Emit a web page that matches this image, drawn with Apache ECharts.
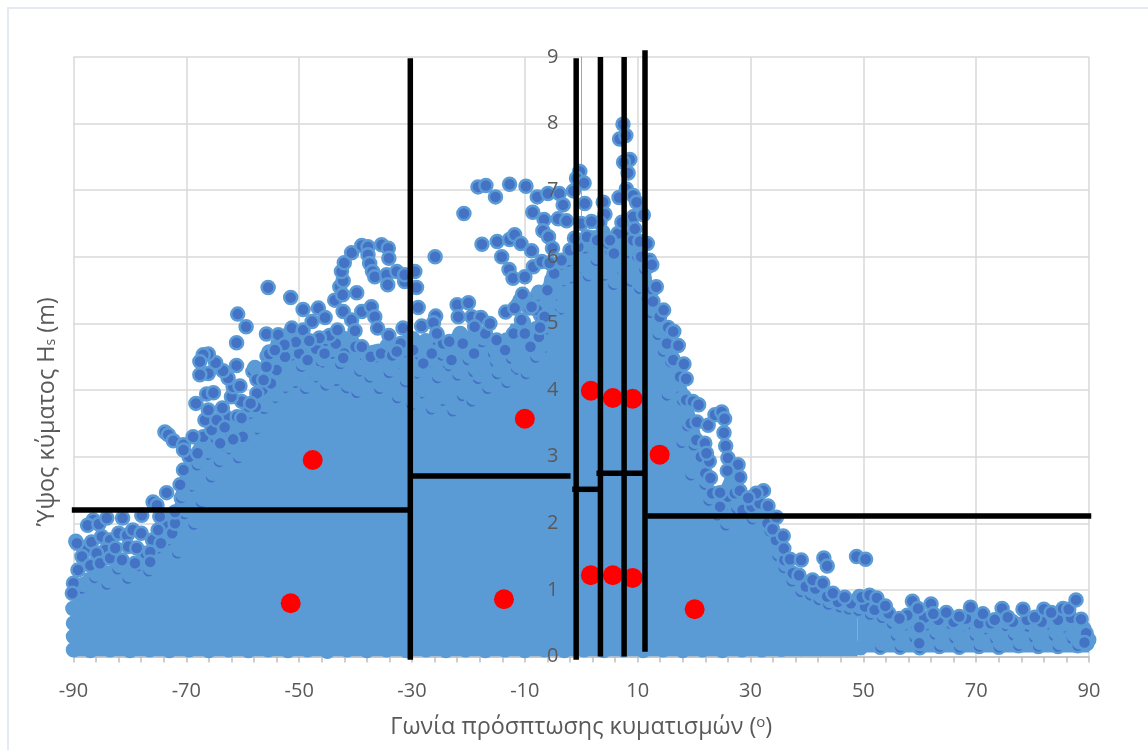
<!DOCTYPE html>
<html><head><meta charset="utf-8">
<style>html,body{margin:0;padding:0;background:#fff}#c{width:1148px;height:750px}</style>
<script src="https://cdn.jsdelivr.net/npm/echarts@6/dist/echarts.min.js"></script>
</head><body><div id="c"></div>
<script>
const xTitle = 'Γωνία πρόσπτωσης κυματισμών (';
const yTitle = 'Ύψος κύματος H';

// solid core of the overlapping cloud, upper outline (angle, Hs)
const cloudCore = [[-90,1.0],[-88,1.25],[-85,1.35],[-81,1.4],[-78,1.45],[-76,1.7],[-74,2.05],[-72,2.3],[-70.5,2.9],[-68.5,3.2],[-66,3.5],[-64,3.45],[-62,3.3],[-60.5,3.7],[-58,3.9],[-56,4.3],[-55,4.75],[-52,4.75],[-48,4.8],[-45,4.85],[-42.5,4.9],[-40,4.85],[-38.5,4.65],[-36,4.7],[-33,4.65],[-31.5,4.85],[-29,4.8],[-27,4.6],[-25.5,4.8],[-23,4.65],[-20,4.9],[-17,4.9],[-14,4.6],[-12.5,5],[-10,5.0],[-8,5.0],[-6.5,5.7],[-5,5.9],[-3,6.0],[-1,6.3],[1,6.4],[3,6.4],[5,6.1],[6.5,6.25],[8,6.4],[10,6.3],[11.5,6.1],[12.5,5.7],[13,5.3],[15,4.85],[17,4.55],[18.5,4.1],[20,3.7],[21,3.4],[22,3.1],[22.8,2.7],[24,2.45],[25,2.6],[26,2.8],[28,2.6],[29.5,2.3],[32,2.4],[33.5,2.1],[34,1.85],[35.8,1.6],[37,1.35],[38.5,1.15],[41,1.05],[43,.95],[46,.8],[49,.8]];
const cloudCoreTail = [[49,.8],[52,.75],[54,.65],[56.5,.5],[59,.6],[62,.6],[65,.55],[69,.55],[72,.5],[75,.52],[78,.55],[82,.55],[85,.6],[87,.6],[88.6,.45],[90,.25]];

// points inside the cloud near its top, where individual markers still show
const innerLeft = [[-88.6,1.02],[-86.3,1.18],[-84.1,1.08],[-82.2,1.31],[-80.4,1.17],[-78.5,1.36],[-76.7,1.28],[-75.2,1.62],[-73.4,1.74],[-71.6,1.55],[-70.3,2.14],[-68.7,1.98],[-73.1,2.02],[-70.9,2.38],[-69.2,2.55],[-67.4,2.31],[-65.6,2.69],[-68.1,2.87],[-66.3,3.03],[-64.2,2.92],[-62.7,3.11],[-60.8,2.98],[-64.8,3.27],[-62.1,3.36],[-59.5,3.29],[-57.6,3.41],[-58.9,3.64],[-56.2,3.72],[-54.4,3.88],[-56.8,3.98],[-54.9,4.17],[-52.6,4.03],[-50.7,4.11],[-48.9,4.02],[-47.2,4.19],[-45.3,4.07],[-43.4,4.14],[-41.6,4.03],[-39.8,3.96],[-53.3,4.37],[-51.4,4.52],[-49.6,4.35],[-47.8,4.58],[-46.1,4.41],[-44.2,4.55],[-42.7,4.39],[-41.1,4.62],[-39.3,4.28],[-37.5,4.19],[-35.8,4.02],[-34.1,4.26],[-36.6,4.49],[-34.7,4.61],[-32.9,4.38],[-31.2,4.12],[-32.6,3.88],[-30.1,3.78],[-28.4,3.95],[-26.6,3.71],[-24.7,3.84],[-22.8,3.68],[-21.1,3.91],[-19.4,3.83],[-29.2,4.25],[-27.3,4.41],[-25.5,4.18],[-23.6,4.36],[-21.9,4.22],[-20.1,4.45],[-18.3,4.17],[-16.6,4.02],[-14.9,4.24],[-13.2,4.11],[-11.5,4.31],[-9.8,4.24],[-8.1,4.49],[-27.9,4.68],[-25.9,4.76],[-23.8,4.61],[-21.8,4.79],[-19.7,4.68],[-17.6,4.72],[-15.6,4.55],[-13.6,4.69],[-11.8,4.62],[-9.9,4.71],[-8.4,4.86],[-6.7,4.63],[-5.3,5.02],[-3.7,5.21],[-6.2,5.28],[-7.9,5.41],[-9.3,5.23],[-11.2,5.29],[-5.1,5.55],[-3.4,5.63],[-1.8,5.68],[-58.2,4.28],[-55.7,4.51],[-52.1,4.79],[-49.3,4.66],[-45.2,4.74],[-43.1,4.68],[-38.3,4.47],[-31.6,4.56],[-30.2,4.71],[-28.6,4.52],[-24.7,4.52],[-22.6,4.49],[-19.1,4.27],[-15.2,4.41],[-12.4,4.47],[-10.6,4.96],[-7.2,5.12],[-6.4,4.91],[-4.4,5.41],[-2.3,5.93],[-3.9,5.87]];
const innerRight = [[-.3,5.82],[1.2,5.71],[2.6,5.94],[4.1,5.72],[5.7,5.58],[7.3,5.76],[8.8,5.63],[10.3,5.52],[11.6,5.38],[.6,6.13],[2.1,6.22],[3.5,6.31],[5.2,6.08],[6.9,6.14],[8.4,6.06],[9.9,6.01],[11.2,5.81],[12.3,5.16],[13.6,4.83],[14.5,4.58],[15.8,4.42],[16.7,4.03],[17.9,3.84],[15.2,3.92],[18.8,3.46],[19.9,3.17],[17.8,3.21],[20.8,2.81],[21.9,2.58],[19.4,2.72],[22.6,2.34],[24.1,2.12],[25.3,2.26],[26.7,2.51],[27.5,2.22],[29.1,2.18],[30.3,2.06],[31.9,2.17],[33.4,1.88],[25.6,1.97],[34.8,1.51],[35.9,1.33],[37.3,1.13],[38.9,.97],[40.6,.92],[42.1,.85],[43.8,.78],[45.9,.74],[47.4,.71],[49.1,.69],[51.2,.63],[53.3,.58],[55.1,.49],[57.2,.46],[58.9,.5],[61.1,.47],[63.2,.43],[65.4,.49],[67.3,.44],[69.1,.48],[71.4,.41],[73.2,.44],[75.1,.46],[77.3,.42],[79.2,.45],[81.1,.41],[83.2,.47],[85.3,.43],[87.1,.44],[88.7,.36],[55.8,.31],[59.1,.28],[62.7,.33],[66.2,.27],[69.8,.31],[73.4,.26],[76.6,.32],[80.3,.28],[83.8,.31],[86.9,.27]];
// whole markers just below the outer edge
const nearEdge = [[-88,1.6],[-86.8,1.72],[-85,1.8],[-83.5,1.75],[-82,1.85],[-80.5,1.82],[-79.5,1.9],[-77.3,1.55],[-76,1.75],[-74.5,1.7],[-73.5,1.95],[-72.5,1.85],[-88.5,1.5],[-84.3,1.6],[-69.5,3],[-68,3.05],[-67,3.3],[-65.5,3.4],[-64,3.2],[-63,3.6],[-61,3.6],[-60,3.3],[-59,3.75],[-57.7,3.75],[-56.5,4],[-55,4.1],[-54,4.3],[-52.5,4.5],[-50,4.55],[-48.5,4.45],[-47,4.62],[-45.5,4.55],[-43.5,4.7],[-42,4.55],[-40,4.65],[-37.3,4.5],[-35.5,4.55],[-33.5,4.52],[-32,4.7],[-29.8,4.6],[-28,4.4],[-26.5,4.55],[-24.5,4.7],[-23,4.45],[-21,4.7],[-19,4.55],[-17,4.85],[-15,4.75],[-13.5,4.6],[-12,4.85],[-10,4.85],[-9,4.65],[-7.5,4.8],[-7.8,5.2],[-6.5,5.1],[-6,5.5],[-4.8,5.75],[-3.5,5.95],[-2,6.1],[-.5,6.15],[1,6.3],[2.8,6.25],[4.7,6.2],[5.8,6.05],[7.8,6.3],[9.2,6.25],[10.6,6],[11.8,5.85],[12.6,5.5],[13.9,5.1],[15.2,4.7],[16.3,4.45],[17.5,4.2],[18.6,3.85],[19.4,3.5],[20.4,3.25],[21.2,3],[22,2.75],[23.2,2.45],[24.6,2.25],[26,2.4],[27.2,2.45],[28.6,2.2],[30.2,2.25],[31.6,2.3],[33,2],[34.5,1.75],[36,1.45],[37.5,1.25],[39.8,1.05],[41.5,1.02],[43.6,.9],[45.5,.82],[47.8,.8],[50.3,.75],[52,.7],[54.5,.65],[57.8,.62],[60.8,.58],[63.3,.55],[66,.52],[68.2,.57],[70.5,.5],[72.6,.5],[76.5,.52],[79,.55],[81.6,.52],[84.5,.55],[86.8,.58]];

// markers on the visible outer edge of the cloud
const edgeLeft = [[-89.6,1.73],[-89.4,1.7],[-90,1.1],[-90.2,.95],[-89.2,1.3],[-87,1.37],[-85.9,1.55],[-85.3,1.4],[-83.5,1.48],[-82.6,1.63],[-81.4,1.45],[-80.3,1.65],[-79.1,1.4],[-78.8,1.63],[-76.4,1.57],[-76.4,1.42],[-78,1.85],[-75,1.9],[-72,2],[-86.5,2.05],[-87.5,1.97],[-85.5,1.99],[-84.1,2.08],[-81.3,2.08],[-77.9,2.12],[-74.7,2.1],[-72,2.17],[-75.9,2.32],[-75.2,2.27],[-73.5,2.46],[-71.1,2.58],[-70.5,2.8],[-73.8,3.37],[-73.2,3.33],[-72.3,3.24],[-70.5,3.18],[-70.5,3.1],[-68.8,3.3],[-68.3,3.8],[-66.7,3.55],[-66.1,3.7],[-64.6,3.55],[-63.6,3.73],[-63.2,3.44],[-61.7,3.26],[-66.4,3.94],[-65.2,3.96],[-60.2,3.83],[-60.2,3.58],[-62,3.9],[-61.7,4.05],[-60.5,4.06],[-57.5,4.16],[-57.5,3.95],[-61.1,4.37],[-62.6,4.18],[-63.5,4.29],[-64.8,4.41],[-66.1,4.25],[-67.6,4.23],[-66.1,4.54],[-67,4.53],[-67.6,4.43],[-61.1,4.71],[-59.4,4.95],[-60.9,5.14],[-55.8,4.35],[-55.3,4.54],[-55.8,4.84],[-53.7,4.83],[-55.5,5.54],[-51.5,5.39],[-51.3,4.93],[-49.3,4.9],[-49.3,5.21],[-47.7,5.03],[-46.6,5.23],[-45.4,5.09],[-43.7,5.35],[-42.8,5.55],[-42.3,5.43],[-42.2,5.64],[-42.5,5.78],[-42,5.91],[-40.7,6.06],[-38.9,6.17],[-37.8,6.15],[-37.8,6.03],[-37.5,5.9],[-37,5.78],[-36.6,5.7],[-35.4,6.18],[-34.2,6.13],[-34.1,5.98],[-34.5,5.73],[-34.3,5.58],[-32.7,5.78],[-31.3,5.63],[-31.3,5.73],[-29.5,5.78],[-29.2,5.54],[-28.9,5.24],[-39.8,5.46],[-42.2,5.18],[-40.7,5.05],[-40.1,4.89],[-38.9,5.18],[-37.2,5.25],[-36.6,5.1],[-36.1,4.93],[-34.1,4.82],[-31.6,4.93],[-42.2,4.48],[-38.9,4.65],[-32.7,4.58],[-44.6,4.82],[-43.2,4.9],[-46.4,4.78],[-48.2,4.74],[-50.6,4.72],[-52.6,4.68],[-54.3,4.6],[-56.3,4.15],[-58.6,3.8],[-28.3,4.96]];
const edgeTop = [[-25.9,6],[-20.8,6.65],[-18.3,7.05],[-16.9,7.07],[-15.2,6.9],[-12.7,7.09],[-9.8,7.06],[-7.8,6.9],[-5.9,6.95],[-3.9,6.95],[-3.2,6.78],[-8.6,6.67],[-6.6,6.56],[-4.1,6.57],[-2.6,6.54],[-6.8,6.39],[-5.8,6.3],[-17.6,6.19],[-14.9,6.23],[-12.7,6.26],[-11.8,6.33],[-10.7,6.2],[-8.8,6.09],[-14.1,6],[-5.1,6.13],[-12.8,5.81],[-12.1,5.68],[-10,5.7],[-8.5,5.85],[-7,5.93],[-5.6,5.91],[-10.4,5.44],[-8.8,5.25],[-22,5.28],[-20,5.31],[-21.8,5.1],[-13.4,5.17],[-11.8,5.23],[-25.8,5.11],[-26.2,5.01],[-19.4,5.1],[-17.8,5.09],[-16.2,5],[-10.6,5.05],[-7.3,4.94],[-25.6,4.85],[-18.9,4.95],[-23.4,4.73],[-.26,7.28],[-.84,7.18],[.5,7.11],[-1.4,6.99],[.63,6.8],[3.9,6.82],[4.2,6.64],[3.3,6.51],[0,6.5],[1.8,6.53],[-1.2,6.28],[7.4,7.99],[6.8,7.77],[7.9,7.82],[8.6,7.46],[7.5,7.42],[8.3,7.26],[8,7.02],[6.7,6.89],[9.2,6.92],[9.8,6.82],[9.2,6.6],[11,6.63],[9.5,6.42],[6.5,6.35],[5.1,6.25],[11.7,6.2],[10.4,6.23],[7.2,6.52],[12.1,5.95],[12.5,5.88],[13.3,5.55],[12.7,5.33],[14.6,5.2],[15.4,4.94],[16.4,4.88]];
const edgeRight = [[16.3,4.88],[17.2,4.67],[18.2,4.39],[18.6,4.17],[19.8,3.83],[20.8,3.78],[20.5,3.52],[22.5,3.47],[23.7,3.63],[24.9,3.67],[25.4,3.57],[25.3,3.36],[25.6,3.16],[26,2.98],[27.8,2.88],[25.9,2.79],[28.1,2.69],[22.7,2.93],[21.9,3.2],[22.2,3.05],[22.9,2.68],[24.6,2.46],[28.1,2.49],[32.3,2.49],[31,2.45],[29.6,2.38],[33.1,2.26],[34.6,2.09],[33.9,1.91],[35.8,1.81],[35.9,1.62],[37,1.46],[39,1.45],[38.6,1.22],[41,1.15],[42.8,1.1],[43,1.48],[43.6,1.36],[48.8,1.5],[50.4,1.46],[44.6,.95],[46.7,.89],[49.3,.9],[49.7,.89],[51.1,.92],[52.4,.88],[53.9,.76],[56.4,.57],[58.7,.83],[59.7,.72],[62,.79],[62.4,.64],[64.7,.66],[67,.6],[69,.74],[71.2,.64],[73.3,.55],[74.6,.72],[75.6,.59],[78.3,.71],[80.4,.59],[82,.71],[83.3,.66],[85.4,.72],[86.4,.71],[87.7,.85],[88.6,.56],[89.5,.35],[89.2,.21],[59.9,.44],[59.9,.2]];
// markers along the floor and the two side edges of the cloud
const floorSolid = [[-90,.1],[-90,.3],[-90,.5],[-90.1,.72],[-87,.09],[-83.5,.1],[-80,.09],[-76.5,.1],[-73,.09],[-69.5,.1],[-66,.09],[-62.5,.1],[-59,.09],[-55.5,.1],[-52,.09],[-48.5,.1],[-45,.08],[-41.5,.1],[-38,.09],[-34.5,.1],[-31,.09],[-27.5,.1],[-24,.09],[-20.5,.1],[-17,.09],[-13.5,.1],[-10,.09],[-6.5,.1],[-3,.09],[.5,.1],[4,.09],[7.5,.1],[11,.09],[14.5,.1],[18,.09],[21.5,.1],[25,.09],[28.5,.1],[32,.1],[35.5,.11],[39,.12],[42.5,.12],[46,.12],[49.5,.13]];
const floorTail = [[53,.14],[56.5,.14],[60,.13],[63.5,.15],[67,.14],[70.5,.15],[74,.14],[77.5,.16],[81,.15],[84.5,.15],[88,.16],[89.6,.19]];

// Average-value markers
const redX = [-47.6,-51.5,-10,-13.7,1.7,5.6,9.1,1.7,5.6,9.1,13.9,20.1];
const redY = [2.95,.8,3.57,.86,3.99,3.88,3.87,1.22,1.22,1.18,3.03,.71];

// Sector boundaries (angle, Hs)
const boundaryLines = [
  [[-90.3,2.2],[-30.3,2.2]],
  [[-30.3,2.71],[-1.9,2.71]],
  [[-1.6,2.51],[3,2.51]],
  [[2.7,2.75],[11,2.75]],
  [[11.7,2.11],[90.4,2.11]],
  [[-30.3,8.98],[-30.3,-.05]],
  [[-0.9,8.98],[-0.9,-.05]],
  [[3.4,9],[3.4,0]],
  [[7.6,9],[7.6,0]],
  [[11.3,9.1],[11.3,.07]]
];

const dot = {color:'#4472C4',borderColor:'#5B9BD5',borderWidth:2.5,opacity:1};
const light = {color:'#5B9BD5',borderColor:'#5B9BD5',borderWidth:2.5,opacity:1};
const cloud = (d,z,style,off) => ({type:'scatter',data:d,symbol:'circle',symbolSize:13,symbolOffset:off||[0,0],itemStyle:style||dot,z:z,clip:false,animation:false,silent:true});
const core = (d,origin) => ({type:'line',data:d,symbol:'none',lineStyle:{width:0},areaStyle:{color:'#5B9BD5',opacity:1,origin:origin},z:2,animation:false,silent:true});
const series = [
  core(cloudCore,0),core(cloudCoreTail,.06),
  cloud(innerLeft,3),cloud(innerRight,3),cloud(floorTail,3),
  cloud(innerLeft,3,light,[2,-4]),cloud(innerRight,3,light,[2,-4]),cloud(floorTail,3,light,[2,-4]),
  cloud(floorSolid,3,light),
  cloud(nearEdge,4),cloud(edgeLeft,4),cloud(edgeTop,4),cloud(edgeRight,4),
  {type:'scatter',data:redX.map((x,i)=>[x,redY[i]]),symbol:'circle',symbolSize:20,itemStyle:{color:'#FF0000',opacity:1},z:5,clip:false,animation:false,silent:true}
];
boundaryLines.forEach(l=>series.push({type:'line',data:l,symbol:'none',lineStyle:{color:'#000',width:5.5,cap:'butt'},z:6,clip:false,animation:false,silent:true}));

const chart = echarts.init(document.getElementById('c'),null,{renderer:'canvas'});
const font = '"Open Sans","Noto Sans",sans-serif';
chart.setOption({
  animation:false,
  backgroundColor:'#fff',
  graphic:[{type:'polyline',shape:{points:[[8,750],[8,8],[1148,8]]},style:{stroke:'#E4E9F5',lineWidth:2,fill:null},silent:true,z:0}],
  grid:{left:73.5,right:59,top:57,bottom:93.5,containLabel:false,outerBoundsMode:'none'},
  xAxis:{type:'value',min:-90,max:90,interval:20,
    axisLine:{onZero:false,lineStyle:{color:'#BFBFBF',width:1.5}},
    axisTick:{show:true,length:6,inside:false,lineStyle:{color:'#BFBFBF',width:1.5}},
    minorTick:{show:true,splitNumber:5,length:6,lineStyle:{color:'#BFBFBF',width:1.5}},
    splitLine:{show:true,lineStyle:{color:'#D9D9D9',width:1.5}},minorSplitLine:{show:false},
    axisLabel:{color:'#595959',fontSize:20,fontFamily:font,margin:25,hideOverlap:false,showMinLabel:true,showMaxLabel:true},
    name:'{t|'+xTitle+'}{s|o}{t|)}',nameLocation:'middle',nameGap:59,
    nameTextStyle:{rich:{t:{color:'#595959',fontSize:23.4,fontFamily:font},s:{color:'#595959',fontSize:15,fontFamily:font,verticalAlign:'top'}}}},
  yAxis:[
   {type:'value',min:0,max:9,interval:1,position:'left',
    axisLine:{show:true,onZero:true,lineStyle:{color:'#A6A6A6',width:1}},axisTick:{show:false},axisLabel:{show:false},
    splitLine:{show:true,lineStyle:{color:'#D9D9D9',width:1.5}},
    name:'{t|'+yTitle+'}{s|s}{t| (m)}',nameLocation:'middle',nameGap:15,nameRotate:90,
    nameTextStyle:{padding:[0,110,0,0],rich:{t:{color:'#595959',fontSize:23.4,fontFamily:font},s:{color:'#595959',fontSize:14,fontFamily:font,verticalAlign:'bottom'}}}},
   {type:'value',min:0,max:9,interval:1,position:'left',offset:-508,z:20,
    axisLine:{show:false,onZero:false},axisTick:{show:false},splitLine:{show:false},
    axisLabel:{color:'#595959',fontSize:20,fontFamily:font,margin:23}}
  ],
  series:series
});
</script></body></html>
